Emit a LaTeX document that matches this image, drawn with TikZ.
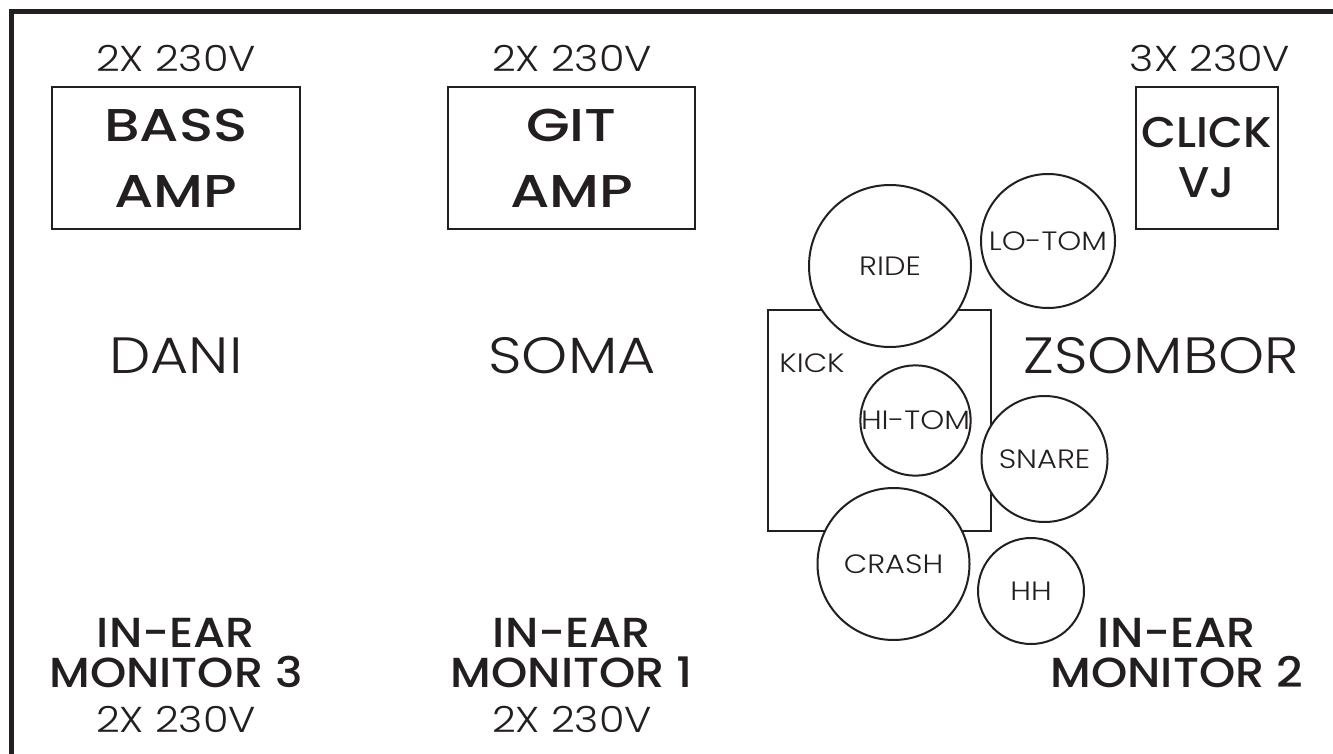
\documentclass[tikz,border=0pt]{standalone}
\usepackage{fontspec}
\setmainfont{Poppins}
\newfontfamily\lightfont{Poppins Light}[FakeStretch=1.15]
\newfontfamily\medfont{Poppins Medium}[FakeStretch=1.1]
\newfontfamily\ampfont{Poppins Medium}[FakeStretch=1.23]
\newfontfamily\clickfont{Poppins Medium}[FakeStretch=1.05]
\definecolor{ink}{HTML}{231F20}
\begin{document}
\begin{tikzpicture}[x=1pt,y=-1pt,
  every node/.style={inner sep=0pt, outer sep=0pt, text=ink},
  frame/.style={line width=5pt, draw=ink},
  ampbox/.style={draw=ink, line width=2pt, align=center, font=\ampfont\fontsize{46}{66}\selectfont},
  clickbox/.style={draw=ink, line width=2pt, align=center, font=\clickfont\fontsize{43}{50}\selectfont},
  power/.style={anchor=base, font=\lightfont\fontsize{36}{40}\selectfont},
  person/.style={anchor=base, font=\lightfont\fontsize{51}{55}\selectfont},
  monitor/.style={anchor=base, font=\medfont\fontsize{42}{46}\selectfont},
  drum/.style={circle, draw=ink, line width=2pt, fill=white, font=\lightfont\fontsize{26.5}{30}\selectfont},
  kickbox/.style={draw=ink, line width=2pt},
  drumtext/.style={anchor=base, font=\lightfont\fontsize{26.5}{30}\selectfont}]
\useasboundingbox (0,0) rectangle (1333,754);
\fill[white] (0,0) rectangle (1333,754);
% frame
\coordinate (fbl) at (11.5,760);
\coordinate (ftl) at (11.5,11.5);
\coordinate (ftr) at (1340,11.5);
\draw[frame] (fbl) -- (ftl) -- (ftr);

% amps
\node[ampbox, minimum width=248pt, minimum height=142pt] (bass) at (176,158) {BASS\\AMP};
\node[ampbox, minimum width=247pt, minimum height=142pt] (git) at (571.5,158) {GIT\\AMP};
\node[clickbox, minimum width=142pt, minimum height=142pt] (click) at (1207,158) {CLICK\\VJ};
\node[power] (pbass) at (176,72) {2X 230V};
\node[power] (pgit) at (572,72) {2X 230V};
\node[power] (pclick) at (1210,72) {3X 230V};

% people
\node[person] (dani) at (176,373) {DANI};
\node[person] (soma) at (572,373) {SOMA};
\node[person] (zsombor) at (1161,373) {ZSOMBOR};

% drums
\node[kickbox, minimum width=223pt, minimum height=221pt] (kick) at (879.5,420.5) {};
\node[drumtext] (kicklabel) at (812,372) {KICK};
\node[drum, minimum size=162pt] (ride) at (890,266) {RIDE};
\node[drum, minimum size=134pt] (lotom) at (1048,241) {LO-TOM};
\node[drum, minimum size=106pt] (hitom) at (915.5,420.5) {HI-TOM};
\node[drum, minimum size=126pt] (snare) at (1044.5,459) {SNARE};
\node[drum, minimum size=152pt] (crash) at (893.5,564) {CRASH};
\node[drum, minimum size=106pt] (hh) at (1031,591) {HH};

% monitors
\node[monitor] (ie3) at (176,647) {IN-EAR};
\node[monitor] (m3) at (176,687) {MONITOR 3};
\node[power] (p3) at (176,732) {2X 230V};
\node[monitor] (ie1) at (572,647) {IN-EAR};
\node[monitor] (m1) at (572,687) {MONITOR 1};
\node[power] (p1) at (572,732) {2X 230V};
\node[monitor] (ie2) at (1177,647) {IN-EAR};
\node[monitor] (m2) at (1177,687) {MONITOR 2};
\end{tikzpicture}
\end{document}
